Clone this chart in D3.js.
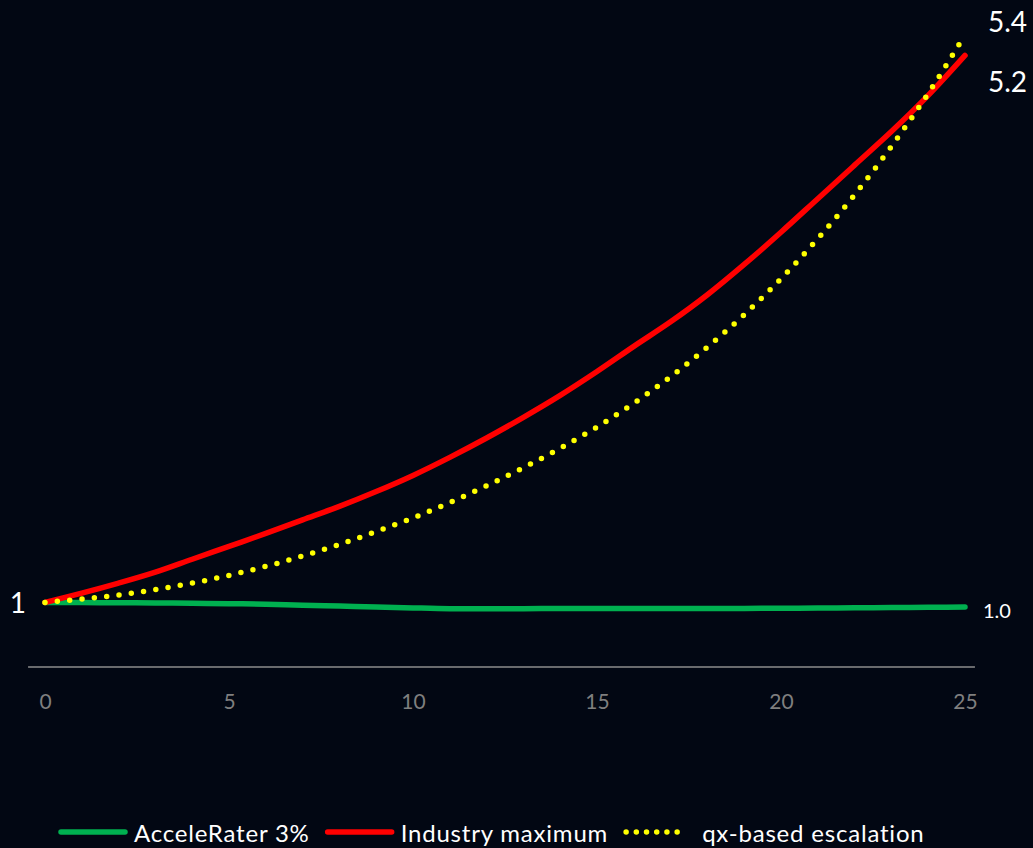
<!DOCTYPE html>
<html>
<head>
<meta charset="utf-8">
<script src="https://cdn.jsdelivr.net/npm/d3@7"></script>
<style>
  html, body { margin: 0; padding: 0; background: #020713; }
  svg { display: block; }
  text { font-family: Lato, "Noto Sans", sans-serif; }
</style>
</head>
<body>
<svg id="chart" width="1033" height="848"></svg>
<script>
// Projection years
const years = d3.range(0, 26);

// Cumulative escalation factor per year, one array per scenario
const accelerater = [1.000, 0.999, 0.998, 0.996, 0.994, 0.991, 0.987, 0.978, 0.972, 0.966,
                     0.958, 0.952, 0.951, 0.952, 0.953, 0.954, 0.954, 0.953, 0.953, 0.954,
                     0.955, 0.957, 0.959, 0.961, 0.963, 0.965];
const industryMax = [1.000, 1.072, 1.150, 1.235, 1.335, 1.435, 1.535, 1.640, 1.745, 1.860,
                     1.985, 2.125, 2.275, 2.435, 2.605, 2.790, 2.985, 3.175, 3.385, 3.620,
                     3.870, 4.130, 4.390, 4.650, 4.930, 5.240];
const qxBased     = [1.000, 1.027, 1.058, 1.100, 1.150, 1.210, 1.280, 1.360, 1.450, 1.550,
                     1.655, 1.775, 1.905, 2.045, 2.195, 2.360, 2.545, 2.750, 2.980, 3.230,
                     3.510, 3.820, 4.160, 4.535, 4.945, 5.400];

const seriesNames = ["AcceleRater 3%", "Industry maximum", "qx-based escalation"];
const xTickValues = [0, 5, 10, 15, 20, 25];

const series = [
  { name: seriesNames[0], values: accelerater, color: "#00B050", dotted: false },
  { name: seriesNames[1], values: industryMax, color: "#FF0000", dotted: false },
  { name: seriesNames[2], values: qxBased,     color: "#FFFF00", dotted: true }
];

const svg = d3.select("#chart");

const x = d3.scaleLinear().domain([0, 25]).range([45, 965]);
const y = d3.scaleLinear().domain([0.5, 5.6]).range([667, 9]);

// Horizontal axis: baseline rule plus year labels
const axisG = svg.append("g").attr("transform", `translate(0,${y(0.5)})`);
axisG.append("line")
  .attr("x1", x(-0.46)).attr("x2", x(25.27))
  .attr("stroke", "#8c8c8c").attr("stroke-width", 1.6);
const xAxis = d3.axisBottom(x).tickValues(xTickValues).tickSize(0).tickPadding(27)
  .tickFormat(d3.format("d"));
axisG.append("g").call(xAxis)
  .call(g => g.select(".domain").remove())
  .selectAll("text")
  .attr("fill", "#7f7f7f")
  .style("font-size", "21px")
  .style("font-family", "Lato, 'Noto Sans', sans-serif");

// Series lines
const line = d3.line()
  .x((d, i) => x(years[i]))
  .y(d => y(d))
  .curve(d3.curveMonotoneX);

const plot = svg.append("g");
plot.selectAll("path.series")
  .data(series)
  .join("path")
  .attr("class", "series")
  .attr("fill", "none")
  .attr("stroke", d => d.color)
  .attr("stroke-width", 5.5)
  .attr("stroke-linecap", "round")
  .attr("stroke-linejoin", "round")
  .attr("stroke-dasharray", d => d.dotted ? "0 12.4" : null)
  .attr("d", d => line(d.values));

// Value labels at the start and end of the lines
const last = years.length - 1;
const startFmt = d3.format("d");
const endFmt = d3.format(".1f");

svg.append("text")
  .attr("x", x(0) - 19).attr("y", y(industryMax[0]))
  .attr("text-anchor", "end").attr("dominant-baseline", "central")
  .attr("fill", "#ffffff").style("font-size", "28px")
  .text(startFmt(industryMax[0]));

const endLabels = [
  { v: qxBased[last],     dx: 23, dy: -14, size: 28 },
  { v: industryMax[last], dx: 23, dy: 26,  size: 28 },
  { v: accelerater[last], dx: 18, dy: 3,   size: 20 }
];
svg.selectAll("text.endlabel")
  .data(endLabels)
  .join("text")
  .attr("class", "endlabel")
  .attr("x", d => x(25) + d.dx)
  .attr("y", d => y(d.v) + d.dy)
  .attr("dominant-baseline", "central")
  .attr("fill", "#ffffff")
  .style("font-size", d => d.size + "px")
  .text(d => endFmt(d.v));

// Legend along the bottom
const legend = svg.append("g").attr("transform", "translate(58,832)");
let cursor = 0;
series.forEach(s => {
  const g = legend.append("g").attr("transform", `translate(${cursor},0)`);
  g.append("line")
    .attr("stroke", s.color).attr("stroke-width", 5.5)
    .attr("stroke-linecap", "round")
    .attr("stroke-dasharray", s.dotted ? "0 10.2" : null)
    .attr("x1", 3).attr("x2", s.dotted ? 54 : 67);
  const t = g.append("text")
    .attr("x", s.dotted ? 79 : 76).attr("y", 0)
    .attr("dominant-baseline", "central")
    .attr("fill", "#ffffff")
    .style("font-size", "24px")
    .style("letter-spacing", "0.8px")
    .text(s.name);
  const w = t.node().getComputedTextLength();
  cursor += 76 + w + 15;
});
</script>
</body>
</html>
